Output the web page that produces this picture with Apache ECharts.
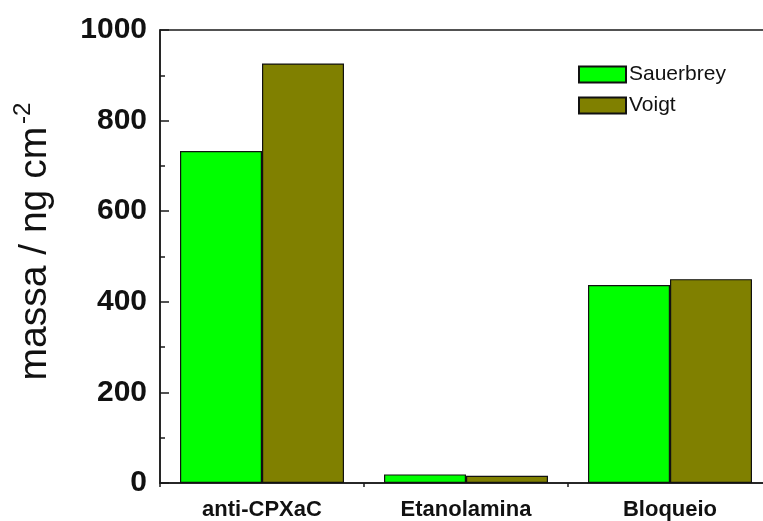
<!DOCTYPE html>
<html>
<head>
<meta charset="utf-8">
<script src="https://cdn.jsdelivr.net/npm/echarts@6/dist/echarts.min.js"></script>
<style>
  html, body { margin: 0; padding: 0; background: #fff; overflow: hidden; }
  /* the frame runs past the right edge of the page */
  #chart { width: 790px; height: 521px; }
</style>
</head>
<body>
<div id="chart"></div>
<script>
// Adsorbed mass per step, from the two models
const categories = ['anti-CPXaC', 'Etanolamina', 'Bloqueio'];
const sauerbrey = [733, 19, 437];
const voigt = [926, 16, 450];
const seriesNames = ['Sauerbrey', 'Voigt'];
const yTicks = [0, 200, 400, 600, 800, 1000];

const FONT = '"Liberation Sans", Arial, sans-serif';
const AXIS_COLOR = '#1a1a1a';

const chart = echarts.init(document.getElementById('chart'), null, { renderer: 'canvas' });

chart.setOption({
  animation: false,
  backgroundColor: '#ffffff',
  grid: {
    left: 160, top: 30, bottom: 36, width: 612,
    show: true, borderColor: AXIS_COLOR, borderWidth: 1.5, backgroundColor: 'transparent'
  },
  legend: {
    orient: 'vertical',
    left: 573, top: 59,
    itemWidth: 47, itemHeight: 16, itemGap: 10,
    icon: 'rect',
    textStyle: { fontFamily: FONT, fontSize: 21, color: '#111', padding: [0, 0, 0, -2] },
    data: seriesNames
  },
  xAxis: [
    {
      type: 'category',
      data: categories,
      position: 'bottom',
      axisLine: { lineStyle: { color: AXIS_COLOR, width: 1.5 } },
      axisTick: { alignWithLabel: true, length: 7, lineStyle: { color: AXIS_COLOR, width: 1.5 } },
      axisLabel: { fontFamily: FONT, fontWeight: 'bold', fontSize: 22, color: '#111', margin: 16 },
      splitLine: { show: false }
    },
    {
      // short ticks on the category boundaries
      type: 'category',
      data: categories,
      position: 'bottom',
      axisLine: { show: false },
      axisTick: { show: true, length: 4, interval: 0, lineStyle: { color: AXIS_COLOR, width: 1.5 } },
      axisLabel: { show: false },
      splitLine: { show: false }
    }
  ],
  yAxis: {
    type: 'value',
    min: yTicks[0], max: yTicks[yTicks.length - 1], interval: 200,
    axisLine: { show: true, lineStyle: { color: AXIS_COLOR, width: 1.5 } },
    axisTick: { show: true, inside: true, length: 9, lineStyle: { color: AXIS_COLOR, width: 1.5 } },
    minorTick: { show: true, splitNumber: 2, length: 5, lineStyle: { color: AXIS_COLOR, width: 1.5 } },
    splitLine: { show: false },
    axisLabel: {
      fontFamily: FONT, fontWeight: 'bold', fontSize: 30, color: '#111', margin: 13,
      formatter: (v) => String(v)
    },
    name: '{a|massa / ng cm}{sup|-2}',
    nameLocation: 'middle',
    nameRotate: 90,
    nameGap: 102,
    nameTextStyle: {
      padding: [0, 0, 0, 30],
      rich: {
        a: { fontFamily: FONT, fontSize: 39, color: '#111', lineHeight: 46 },
        sup: { fontFamily: FONT, fontSize: 24, color: '#111', lineHeight: 46, padding: [0, 0, 24, 3] }
      }
    }
  },
  series: [
    {
      name: seriesNames[0], type: 'bar', data: sauerbrey,
      barWidth: 82, barGap: '0%',
      itemStyle: { color: '#00ff00', borderColor: '#111', borderWidth: 1.2 }
    },
    {
      name: seriesNames[1], type: 'bar', data: voigt,
      barWidth: 82, barGap: '0%',
      itemStyle: { color: '#808000', borderColor: '#111', borderWidth: 1.2 }
    }
  ]
});
</script>
</body>
</html>
